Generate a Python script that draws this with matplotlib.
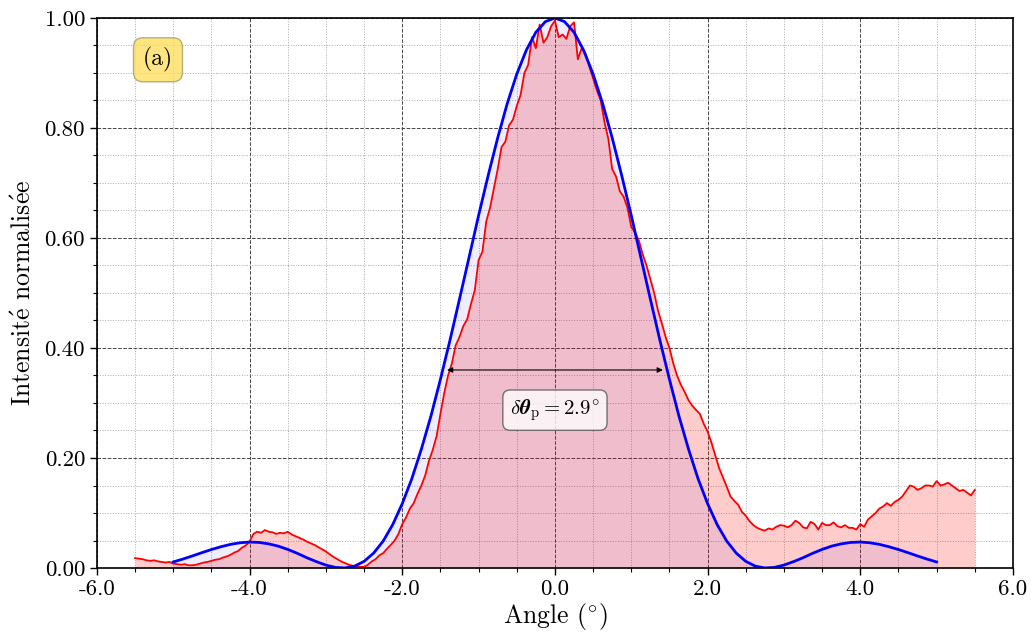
import numpy as np
import matplotlib
matplotlib.use("Agg")
import matplotlib.pyplot as plt
from matplotlib.ticker import MultipleLocator, FormatStrFormatter

plt.rcParams['font.family'] = ['cmr10', 'DejaVu Serif']
plt.rcParams['mathtext.fontset'] = 'cm'
plt.rcParams['axes.unicode_minus'] = False
plt.rcParams['axes.formatter.use_mathtext'] = True

# --- measured profile (red), sampled every 0.05 deg from -5.5 to 5.5 ---
angle_meas = np.round(np.linspace(-5.5, 5.5, 221), 2)
intensity_meas = [
    0.018, 0.017, 0.016, 0.014, 0.013, 0.014, 0.012, 0.011, 0.010, 0.011,  # -5.50
    0.008, 0.007, 0.006, 0.007, 0.005, 0.005, 0.006, 0.008, 0.010, 0.011,  # -5.00
    0.013, 0.015, 0.016, 0.019, 0.021, 0.024, 0.028, 0.031, 0.037, 0.041,  # -4.50
    0.048, 0.062, 0.066, 0.064, 0.069, 0.066, 0.065, 0.062, 0.064, 0.063,  # -4.00
    0.066, 0.061, 0.058, 0.055, 0.052, 0.048, 0.045, 0.042, 0.038, 0.034,  # -3.50
    0.030, 0.025, 0.020, 0.016, 0.012, 0.009, 0.006, 0.004, 0.003, 0.002,  # -3.00
    0.002, 0.006, 0.012, 0.016, 0.023, 0.027, 0.035, 0.042, 0.050, 0.062,  # -2.50
    0.080, 0.092, 0.108, 0.118, 0.135, 0.150, 0.168, 0.195, 0.215, 0.240,  # -2.00
    0.280, 0.318, 0.350, 0.372, 0.405, 0.420, 0.440, 0.452, 0.480, 0.505,  # -1.50
    0.560, 0.575, 0.630, 0.655, 0.690, 0.725, 0.765, 0.775, 0.805, 0.815,  # -1.00
    0.840, 0.860, 0.900, 0.915, 0.965, 0.945, 0.988, 0.955, 0.965, 0.985,  # -0.50
    0.995, 0.965, 0.970, 0.962, 0.985, 0.992, 0.925, 0.945, 0.935, 0.912,  # 0.00
    0.890, 0.868, 0.850, 0.810, 0.780, 0.725, 0.712, 0.685, 0.675, 0.655,  # 0.50
    0.620, 0.610, 0.595, 0.570, 0.550, 0.525, 0.500, 0.468, 0.445, 0.420,  # 1.00
    0.400, 0.372, 0.350, 0.333, 0.320, 0.305, 0.295, 0.287, 0.280, 0.262,  # 1.50
    0.248, 0.228, 0.205, 0.182, 0.165, 0.148, 0.130, 0.122, 0.115, 0.102,  # 2.00
    0.095, 0.085, 0.078, 0.073, 0.070, 0.068, 0.072, 0.070, 0.075, 0.078,  # 2.50
    0.077, 0.074, 0.078, 0.086, 0.082, 0.074, 0.072, 0.084, 0.080, 0.070,  # 3.00
    0.082, 0.078, 0.078, 0.083, 0.076, 0.074, 0.078, 0.073, 0.073, 0.070,  # 3.50
    0.080, 0.075, 0.088, 0.094, 0.100, 0.108, 0.112, 0.118, 0.113, 0.120,  # 4.00
    0.124, 0.130, 0.140, 0.150, 0.148, 0.142, 0.145, 0.150, 0.150, 0.148,  # 4.50
    0.158, 0.150, 0.152, 0.155, 0.150, 0.145, 0.140, 0.142, 0.137, 0.132,  # 5.00
    0.142,                                                                 # 5.50
]

# --- theoretical profile (blue), sampled every 0.125 deg from -5 to 5 ---
angle_theo = np.round(np.linspace(-5.0, 5.0, 81), 3)
intensity_theo = [
    0.0110, 0.0162, 0.0219, 0.0279, 0.0336, 0.0387, 0.0430, 0.0459,   # -5.000
    0.0472, 0.0465, 0.0439, 0.0398, 0.0338, 0.0267, 0.0187, 0.0116,   # -4.000
    0.0053, 0.0011, 0.0001, 0.0034, 0.0121, 0.0271, 0.0490, 0.0789,   # -3.000
    0.1170, 0.1623, 0.2160, 0.2760, 0.3430, 0.4141, 0.4890, 0.5649,   # -2.000
    0.6410, 0.7135, 0.7820, 0.8444, 0.8980, 0.9415, 0.9740, 0.9934,   # -1.000
    1.0000,                                                           # 0.000
    0.9934, 0.9740, 0.9415, 0.8980, 0.8444, 0.7820, 0.7135, 0.6410,   # 0.125
    0.5649, 0.4890, 0.4141, 0.3430, 0.2760, 0.2160, 0.1623, 0.1170,   # 1.125
    0.0789, 0.0490, 0.0271, 0.0121, 0.0034, 0.0001, 0.0011, 0.0053,   # 2.125
    0.0116, 0.0187, 0.0267, 0.0338, 0.0398, 0.0439, 0.0465, 0.0472,   # 3.125
    0.0459, 0.0430, 0.0387, 0.0336, 0.0279, 0.0219, 0.0162, 0.0110,   # 4.125
]

fwhm_left, fwhm_right, fwhm_level = -1.45, 1.45, 0.36
fwhm_text = r'$\mathrm{\delta}\boldsymbol{\theta}_{\mathrm{p}} = 2.9^{\circ}$'

fig = plt.figure(figsize=(10.31, 6.35), dpi=100)
ax = fig.add_axes([0.094, 0.1055, 0.8885, 0.8662])

ax.fill_between(angle_theo, intensity_theo, color='blue', alpha=0.07, lw=0)
ax.fill_between(angle_meas, intensity_meas, color='red', alpha=0.2, lw=0)
ax.plot(angle_meas, intensity_meas, color='red', lw=1.3)
ax.plot(angle_theo, intensity_theo, color='blue', lw=2.0)

ax.set_xlim(-6, 6)
ax.set_ylim(0, 1)
ax.xaxis.set_major_locator(MultipleLocator(2))
ax.xaxis.set_minor_locator(MultipleLocator(0.5))
ax.yaxis.set_major_locator(MultipleLocator(0.2))
ax.yaxis.set_minor_locator(MultipleLocator(0.05))
ax.xaxis.set_major_formatter(FormatStrFormatter('%.1f'))
ax.yaxis.set_major_formatter(FormatStrFormatter('%.2f'))
ax.tick_params(which='major', labelsize=16.5, length=5, width=1)
ax.tick_params(which='minor', length=3, width=0.8)

ax.grid(which='major', linestyle='--', color='#444444', lw=0.7)
ax.grid(which='minor', linestyle=':', color='#aaaaaa', lw=0.7)
ax.set_axisbelow(True)
for s in ax.spines.values():
    s.set_linewidth(1.2)

ax.set_xlabel(r'Angle ($^{\circ}$)', fontsize=18.5, labelpad=1)
ax.set_ylabel(r'Intensit$\mathrm{\acute{e}}$ normalis$\mathrm{\acute{e}}$e',
              fontsize=18.5, labelpad=6)

ax.annotate('', xy=(fwhm_left, fwhm_level), xytext=(fwhm_right, fwhm_level),
            arrowprops=dict(arrowstyle='<|-|>', color='black', lw=0.8,
                            mutation_scale=8))
ax.text(0, 0.287, fwhm_text, fontsize=15, ha='center', va='center',
        bbox=dict(boxstyle='round,pad=0.35', facecolor='white', alpha=0.8,
                  edgecolor='#555555'))

ax.text(-5.2, 0.924, '(a)', fontsize=17, ha='center', va='center',
        bbox=dict(boxstyle='round,pad=0.4', facecolor='#ffdd55', alpha=0.75,
                  edgecolor='#999966'))

fig.savefig('out.png', dpi=100)
